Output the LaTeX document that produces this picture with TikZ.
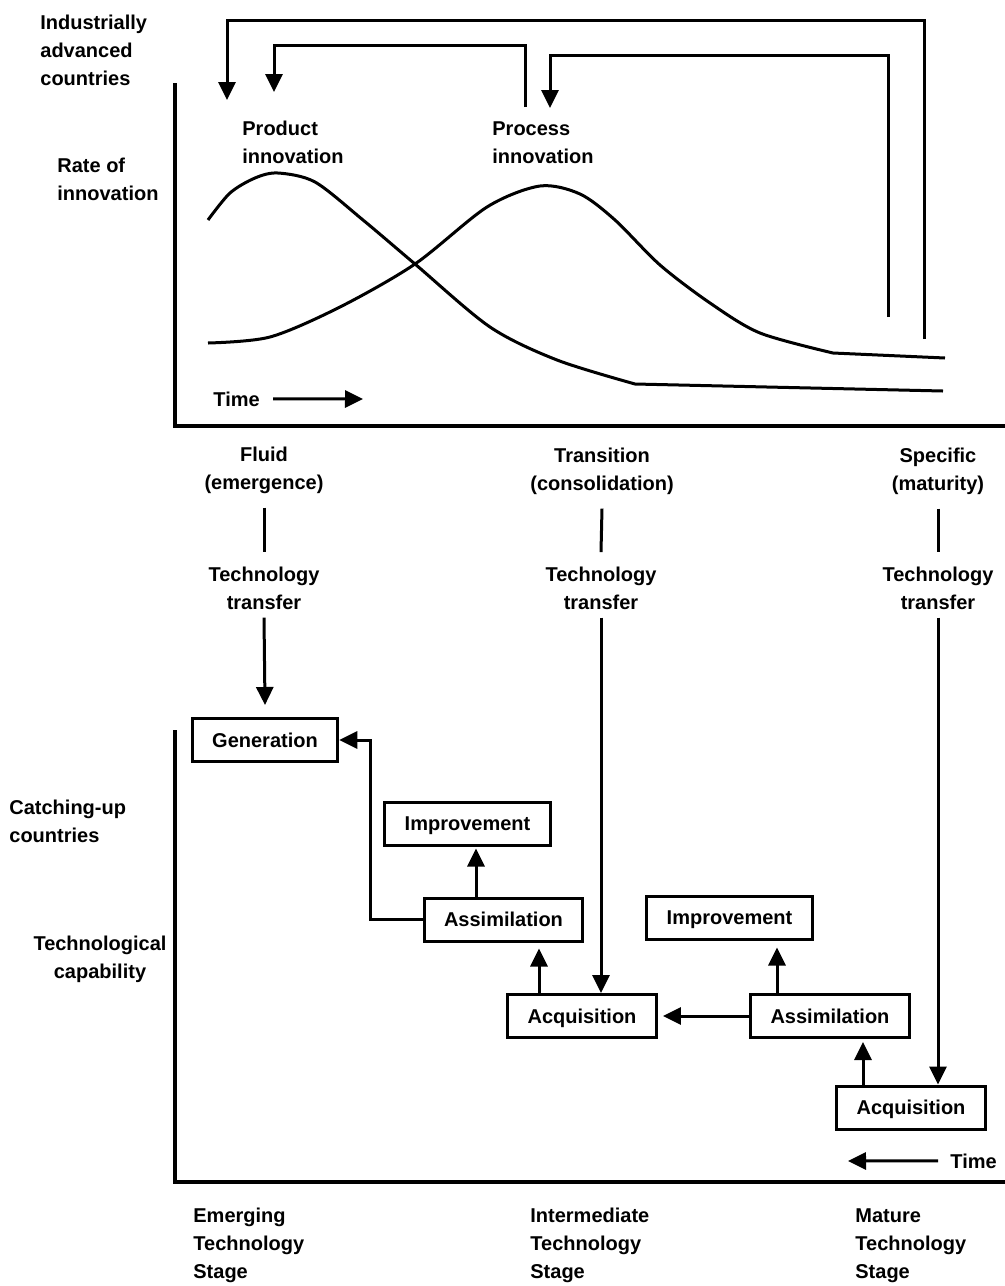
\documentclass[tikz,border=0pt]{standalone}
\usepackage{fontspec}
\setmainfont{Liberation Sans}
\usetikzlibrary{arrows.meta}

\begin{document}
\begin{tikzpicture}[x=0.5pt,y=-0.5pt,
  every node/.style={font=\bfseries\fontsize{10}{14}\selectfont,inner sep=0pt},
  lbl/.style={align=left,anchor=base west},
  clbl/.style={align=center,anchor=base},
  box/.style={draw,line width=1.5pt,inner xsep=10pt,minimum height=21.5pt,text height=7.2pt,text depth=0pt},
  arr/.style={line width=1.5pt,-{Triangle[length=9pt,width=8.5pt]}},
  ln/.style={line width=1.5pt},
  axis/.style={line width=2pt},
  curve/.style={line width=1.5pt}]
\useasboundingbox (0,0) rectangle (1005,1286);

% upper half (base = last line)
\node[lbl] (adv) at (40,85) {Industrially\\advanced\\countries};
\node[lbl] (rate) at (57,200) {Rate of\\innovation};
\node[lbl] (prod) at (242,163) {Product\\innovation};
\node[lbl] (proc) at (492,163) {Process\\innovation};
\draw[axis] (175,83) -- (175,426) -- (1005,426);

\draw[curve] plot[smooth,tension=0.5] coordinates {(208,220) (230,193) (255,178) (278,173) (315,182) (363,220) (415,264) (490,327) (557,360) (635,384)} -- (943,391);
\draw[curve] plot[smooth,tension=0.5] coordinates {(208,343) (270,337) (340,307) (415,264) (487,207) (540,186) (580,194) (615,220) (660,265) (710,303) (760,333) (833,353)} -- (945,358);

\node[lbl] (time1) at (213,406) {Time};
\coordinate (time1end) at (363,399);
\draw[arr] ([xshift=6.5pt]time1.east) -- (time1end);

% feedback to the advanced countries
\coordinate (fbAs) at (924,339);
\coordinate (fbAe) at (227,100);
\coordinate (fbBs) at (525,107);
\coordinate (fbBe) at (274,92);
\coordinate (fbCs) at (888,317);
\coordinate (fbCe) at (550,108);
\draw[arr] (fbAs) -- ++(0,-319) -| (fbAe);
\draw[arr] (fbBs) -- ++(0,-62) -| (fbBe);
\draw[arr] (fbCs) -- ++(0,-262) -| (fbCe);

% stages and transfer
\node[clbl] (st1) at (264,489) {Fluid\\(emergence)};
\node[clbl] (st2) at (602,490) {Transition\\(consolidation)};
\node[clbl] (st3) at (938,490) {Specific\\(maturity)};
\node[clbl] (tt1) at (264,609) {Technology\\transfer};
\node[clbl] (tt2) at (601,609) {Technology\\transfer};
\node[clbl] (tt3) at (938,609) {Technology\\transfer};
\draw[ln] ([yshift=-7pt]st1.south) -- ([yshift=7pt]tt1.north);
\draw[ln] ([yshift=-7pt]st2.south) -- ([yshift=7pt]tt2.north);
\draw[ln] ([yshift=-7pt]st3.south) -- ([yshift=7pt]tt3.north);

% lower half
\node[lbl] (catch) at (9,842) {Catching-up\\countries};
\node[clbl] (cap) at (100,978) {Technological\\capability};
\draw[axis] (175,730) -- (175,1182) -- (1005,1182);

\node[box] (gen) at (265,740) {Generation};
\node[box] (imp1) at (467.5,823.5) {Improvement};
\node[box] (asm1) at (503.5,919.5) {Assimilation};
\node[box] (acq1) at (582,1016) {Acquisition};
\node[box] (imp2) at (729.5,917.5) {Improvement};
\node[box] (asm2) at (830,1016) {Assimilation};
\node[box] (acq2) at (911,1107.5) {Acquisition};

\draw[arr] ([yshift=-4pt]tt1.south) -- ([yshift=6pt]gen.north);
\draw[arr] ([yshift=-4pt]tt2.south) -- (tt2.south |- acq1.north);
\draw[arr] ([yshift=-4pt]tt3.south) -- (tt3.south |- acq2.north);

\draw[arr] (asm1.west) -- ++(-52,0) |- (gen.east);
\draw[arr,shorten >=1pt] ([xshift=-13.75pt]asm1.north) -- ([xshift=-13.75pt]asm1.north |- imp1.south);
\draw[arr,shorten >=3pt] ([xshift=-21.5pt]acq1.north) -- ([xshift=-21.5pt]acq1.north |- asm1.south);
\draw[arr,shorten >=2.5pt] (asm2.west) -- (acq1.east);
\draw[arr,shorten >=3.5pt] ([xshift=-26.5pt]asm2.north) -- ([xshift=-26.5pt]asm2.north |- imp2.south);
\draw[arr,shorten >=1.5pt] ([xshift=-24pt]acq2.north) -- ([xshift=-24pt]acq2.north |- asm2.south);

\node[lbl] (time2) at (950,1168) {Time};
\coordinate (time2end) at (848,1161);
\draw[arr] ([xshift=-6pt]time2.west) -- (time2end);

\node[lbl] (em) at (193,1278) {Emerging\\Technology\\Stage};
\node[lbl] (im) at (530,1278) {Intermediate\\Technology\\Stage};
\node[lbl] (ma) at (855,1278) {Mature\\Technology\\Stage};
\end{tikzpicture}
\end{document}
